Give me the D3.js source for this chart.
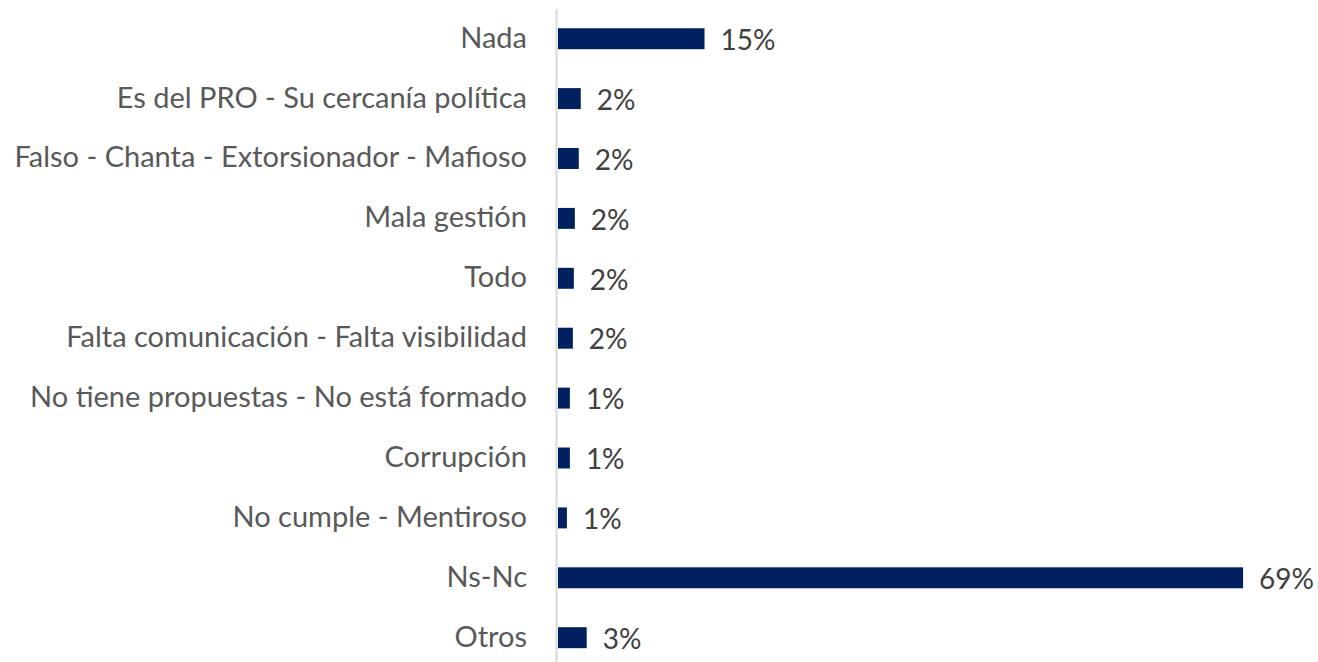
<!doctype html>
<html lang="es">
    <head>
        <meta charset="utf-8">
        <title>Chart</title>
        <style type="text/css">
            body{ margin:0; background:#fff; }
            svg text{ font-family: Lato, "Open Sans", sans-serif; }
            .cat{ fill:#595959; font-size:29px; }
            .val{ fill:#404040; font-size:28px; }
        </style>
    </head>
    <body>
        <div id="vis"></div>
        <script src="https://d3js.org/d3.v7.min.js"></script>
        <script type="text/javascript">
            var categories = ['Nada', 'Es del PRO - Su cercanía política', 'Falso - Chanta - Extorsionador - Mafioso',
                'Mala gestión', 'Todo', 'Falta comunicación - Falta visibilidad', 'No tiene propuestas - No está formado',
                'Corrupción', 'No cumple - Mentiroso', 'Ns-Nc', 'Otros'];
            var values = [14.8, 2.3, 2.1, 1.7, 1.6, 1.5, 1.2, 1.2, 0.9, 69.2, 2.9];
            var labels = ['15%', '2%', '2%', '2%', '2%', '2%', '1%', '1%', '1%', '69%', '3%'];

            var data = categories.map(function(c, i){ return {cat: c, v: values[i], label: labels[i]}; });

            var svg = d3.select('#vis').append('svg').attr('width', 1318).attr('height', 662),
                x = d3.scaleLinear().domain([0, 70]).range([558, 1251]),
                y = d3.scaleBand().domain(categories).range([8.75, 667.65]).paddingInner(0.65).paddingOuter(0.325);

            svg.append('line')
                .attr('x1', 556.5).attr('x2', 556.5)
                .attr('y1', 9).attr('y2', 662)
                .style('stroke', '#d9d9d9').style('stroke-width', 2);

            svg.append('g').selectAll('rect').data(data).enter().append('rect')
                .attr('x', x(0))
                .attr('y', function(d){ return y(d.cat); })
                .attr('width', function(d){ return x(d.v) - x(0); })
                .attr('height', y.bandwidth())
                .style('fill', '#002060');

            svg.append('g').selectAll('text').data(data).enter().append('text')
                .attr('class', 'cat')
                .attr('x', 527)
                .attr('y', function(d){ return y(d.cat) + y.bandwidth() / 2; })
                .attr('dy', '0.31em')
                .style('text-anchor', 'end')
                .text(function(d){ return d.cat; });

            svg.append('g').selectAll('text').data(data).enter().append('text')
                .attr('class', 'val')
                .attr('x', function(d){ return x(d.v) + 16; })
                .attr('y', function(d){ return y(d.cat) + y.bandwidth() / 2; })
                .attr('dy', '0.4em')
                .text(function(d){ return d.label; });
        </script>
    </body>
</html>
